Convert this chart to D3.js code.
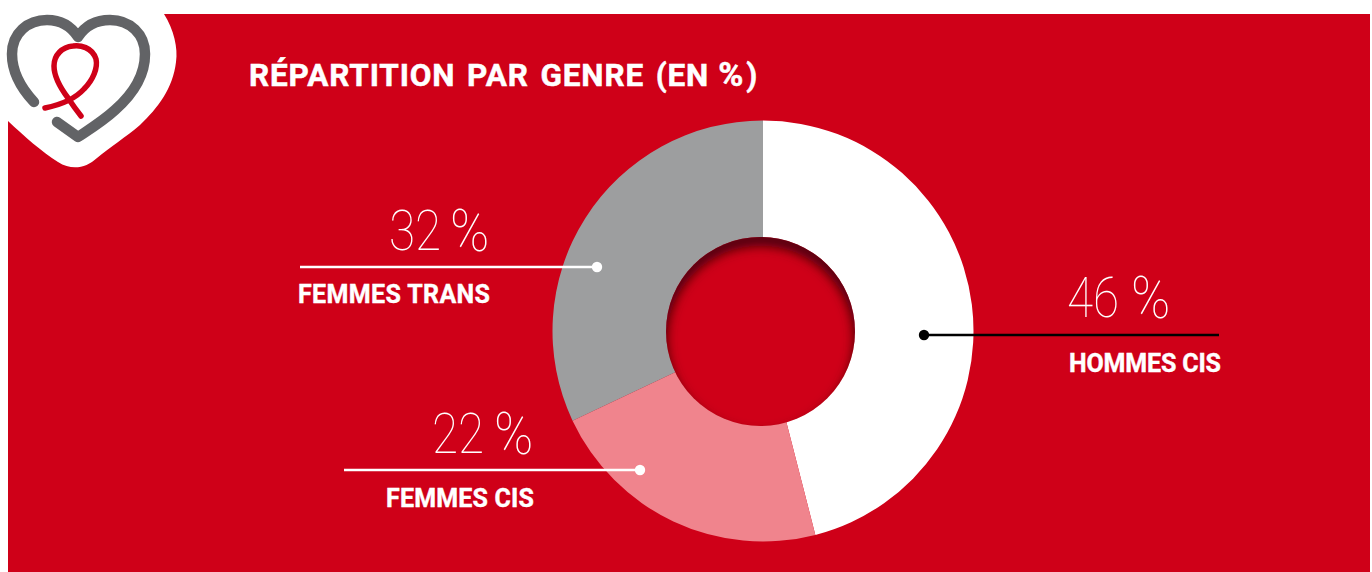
<!DOCTYPE html>
<html>
<head>
<meta charset="utf-8">
<script src="https://cdn.jsdelivr.net/npm/d3@7"></script>
<style>
    html, body { margin: 0; padding: 0; background: #fff; }
    svg { display: block; }
    text { fill: #fff; }
    .title { font: 700 31.5px Roboto, sans-serif; letter-spacing: 0.85px; word-spacing: 3px; stroke: #fff; stroke-width: 0.5px; }
    .name { font: 700 25px Roboto, sans-serif; stroke: #fff; stroke-width: 0.4px; }
    .pct { font: 100 56px Roboto, sans-serif; }
    .pct-sign { font: 100 60px Roboto, sans-serif; }
</style>
</head>
<body>
<svg id="chart" width="1372" height="572"></svg>
<script>
const categories = ["HOMMES CIS", "FEMMES CIS", "FEMMES TRANS"];
const values = [46, 22, 32];
const sliceColors = ["#ffffff", "#f0848d", "#9d9e9f"];

const red = "#cf0018";
const width = 1372, height = 572;
const cx = 763, cy = 331;
const outerRadius = 210.5, innerRadius = 94.5;
const holeX = 760.5, holeY = 331.5;

let svg = d3.select("#chart");
let defs = svg.append("defs");

// background panel and the white blob behind the logo
svg.append("rect").attr("x", 8).attr("y", 14).attr("width", 1362).attr("height", height - 14).attr("fill", red);
svg.append("path")
    .attr("fill", "#fff")
    .attr("d", "M0,0 L164,0 L164,14 C174,30 178,48 176,62 C173,88 158,108 140,125 C126,137 110,147 97,158 C86,168 72,171 58,162 C42,152 24,136 8,121 L0,115 Z");

// logo
let logo = svg.append("g").attr("fill", "none").attr("stroke-linecap", "round").attr("stroke-linejoin", "round");
logo.append("path")
    .attr("stroke", "#626366").attr("stroke-width", 10.5)
    .attr("d", "M34,102 C20,87 12,72 12,54 C12,33 28,20 47,20 C60,20 71,26 78,37 C85,26 96,20 110,20 C130,20 145,34 145,54 C145,76 132,95 115,110 C103,121 90,129 78,137 L57,122");
logo.append("path")
    .attr("stroke", red).attr("stroke-width", 5.5)
    .attr("d", "M45,108 C60,105 74,100 84,89 C93,80 98,68 96,59 C92,47 80,45 73,46 C62,47 54,55 54,66 C54,78 62,90 68,98 C72,104 77,111 81,116");

// pie
let pie = d3.pie().sort(null).startAngle(0).endAngle(2 * Math.PI);
let arc = d3.arc().innerRadius(innerRadius - 5).outerRadius(outerRadius);

let g = svg.append("g").attr("transform", "translate(" + cx + "," + cy + ")");
g.selectAll("path")
    .data(pie(values))
    .enter().append("path")
    .attr("fill", function (d, i) { return sliceColors[i]; })
    .attr("d", arc);

// hole sits slightly off the pie centre, shadow darkest along its top edge
let hole = svg.append("g").attr("transform", "translate(" + holeX + "," + holeY + ")");
hole.append("circle").attr("r", innerRadius).attr("fill", red);

defs.append("clipPath").attr("id", "holeClip")
    .append("circle").attr("r", innerRadius);
let blur = defs.append("filter").attr("id", "holeBlur")
    .attr("x", "-30%").attr("y", "-30%").attr("width", "160%").attr("height", "160%");
blur.append("feGaussianBlur").attr("stdDeviation", 5.5);

hole.append("g").attr("clip-path", "url(#holeClip)")
    .append("circle")
    .attr("cy", 8)
    .attr("r", innerRadius + 6)
    .attr("fill", "none")
    .attr("stroke", "#4a0008")
    .attr("stroke-width", 14)
    .attr("filter", "url(#holeBlur)");

// labels
const labelLayout = [
    { pctX: 1067, signX: 1131, pctY: 317, nameX: 1069, nameY: 372, nameW: 152, lineY: 335, x1: 924, x2: 1219, dot: 924, color: "#000" },
    { pctX: 432, signX: 494, pctY: 453, nameX: 386, nameY: 507, nameW: 148, lineY: 470, x1: 344, x2: 640, dot: 640, color: "#fff" },
    { pctX: 389, signX: 450, pctY: 250, nameX: 298, nameY: 303, nameW: 192, lineY: 267, x1: 300, x2: 597, dot: 597, color: "#fff" }
];

labelLayout.forEach(function (l, i) {
    svg.append("line")
        .attr("x1", l.x1).attr("x2", l.x2)
        .attr("y1", l.lineY).attr("y2", l.lineY)
        .attr("stroke", l.color).attr("stroke-width", 2.5);
    svg.append("circle")
        .attr("cx", l.dot).attr("cy", l.lineY).attr("r", 5.2)
        .attr("fill", l.color);
    // digits are narrower than the font's, squeeze them
    svg.append("text").attr("class", "pct")
        .attr("transform", "translate(" + l.pctX + "," + l.pctY + ") scale(0.85,1)")
        .text(values[i]);
    svg.append("text").attr("class", "pct-sign")
        .attr("transform", "translate(" + l.signX + "," + (l.pctY + 1) + ") scale(0.88,1)")
        .text("%");
    svg.append("text").attr("class", "name")
        .attr("x", l.nameX).attr("y", l.nameY)
        .attr("textLength", l.nameW)
        .text(categories[i]);
});

let title = svg.append("text").attr("class", "title")
    .attr("x", 249).attr("y", 86)
    .text("RÉPARTITION PAR GENRE (EN");
title.append("tspan").attr("dx", 9).attr("font-size", 34).text("%");
title.append("tspan").attr("dx", 2).text(")");
</script>
</body>
</html>
